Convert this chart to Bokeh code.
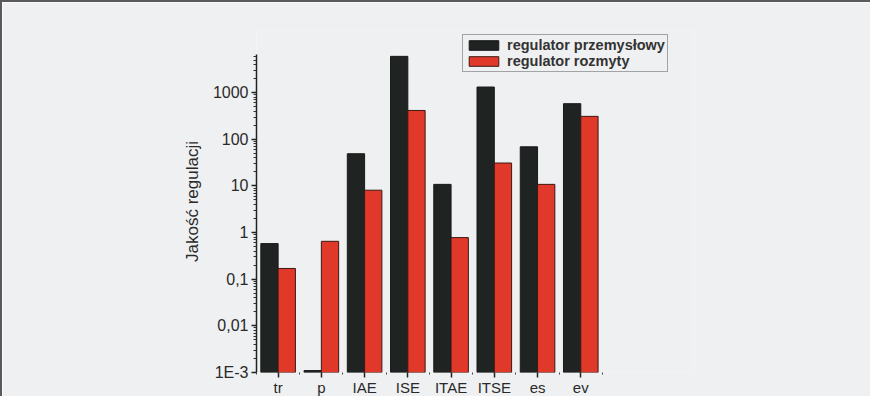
from bokeh.plotting import figure
from bokeh.models import Range1d, FixedTicker, Legend, LegendItem, ColumnDataSource
from bokeh.embed import file_html
from bokeh.resources import INLINE

categories = ["tr", "p", "IAE", "ISE", "ITAE", "ITSE", "es", "ev"]
przemyslowy = [0.58, 0.0011, 49, 6000, 10.8, 1320, 69, 580]
rozmyty = [0.17, 0.65, 8.1, 415, 0.78, 31, 10.8, 310]
y_ticks = [0.001, 0.01, 0.1, 1, 10, 100, 1000]
y_tick_labels = ["1E-3", "0,01", "0,1", "1", "10", "100", "1000"]
series_names = ["regulator przemysłowy", "regulator rozmyty"]
y_axis_top = 6600

FONT = "Liberation Sans"
BG = "#eff0f2"

n = len(categories)
pos = [i + 0.5 for i in range(n)]
src = ColumnDataSource(dict(
    xb=[x - 0.2 for x in pos], xr=[x + 0.2 for x in pos],
    b=przemyslowy, r=rozmyty, base=[y_ticks[0]] * n))

p = figure(width=870, height=396, output_backend="svg", toolbar_location=None,
           y_axis_type="log", x_range=Range1d(0, 10.13),
           y_range=Range1d(0.001, 21500),
           min_border_left=254, min_border_top=28, min_border_right=178, min_border_bottom=26)
p.styles = {"border-left": "2px solid #5a5a5a", "border-top": "2px solid #5a5a5a"}
p.background_fill_color = BG
p.border_fill_color = BG
p.outline_line_color = None
p.grid.visible = False

rb = p.vbar(x="xb", top="b", bottom="base", width=0.4, source=src,
            fill_color="#1f2322", line_color="#1a1a1a", line_width=1)
rr = p.vbar(x="xr", top="r", bottom="base", width=0.4, source=src,
            fill_color="#e0392a", line_color="#3a1a14", line_width=1)

# y axis
minor = []
for d in y_ticks:
    for k in range(2, 10):
        v = d * k
        if v < y_axis_top:
            minor.append(v)
ya = p.yaxis[0]
ya.bounds = (y_ticks[0], y_axis_top)
ya.ticker = FixedTicker(ticks=y_ticks, minor_ticks=minor)
ya.major_label_overrides = {t: l for t, l in zip(y_ticks, y_tick_labels)}
ya.axis_label = "Jakość regulacji"
ya.axis_label_text_font = FONT
ya.axis_label_text_font_style = "normal"
ya.axis_label_text_font_size = "17px"
ya.axis_label_text_color = "#2a2a2a"
ya.axis_label_standoff = 8
ya.major_label_text_font = FONT
ya.major_label_text_font_size = "16px"
ya.major_label_text_color = "#2a2a2a"
ya.major_label_standoff = 3
ya.axis_line_color = "#222222"
ya.axis_line_width = 1.5
ya.major_tick_line_color = "#222222"
ya.major_tick_line_width = 1.5
ya.major_tick_in = 0
ya.major_tick_out = 5
ya.minor_tick_line_color = "#333333"
ya.minor_tick_in = 0
ya.minor_tick_out = 3

# x axis
xa = p.xaxis[0]
xa.bounds = (0, n)
xa.ticker = FixedTicker(ticks=pos, minor_ticks=list(range(n + 1)))
xa.major_label_overrides = {x: c for x, c in zip(pos, categories)}
xa.major_label_text_font = FONT
xa.major_label_text_font_size = "15px"
xa.major_label_text_color = "#2a2a2a"
xa.major_label_standoff = 1
xa.axis_line_color = None
xa.major_tick_line_color = "#222222"
xa.major_tick_line_width = 1.5
xa.major_tick_in = 0
xa.major_tick_out = 5
xa.minor_tick_line_color = "#444444"
xa.minor_tick_in = 0
xa.minor_tick_out = 2

legend = Legend(items=[LegendItem(label=series_names[0], renderers=[rb]),
                       LegendItem(label=series_names[1], renderers=[rr])],
                location=(206, 300))
legend.label_text_font = FONT
legend.label_text_font_style = "bold"
legend.label_text_font_size = "14.5px"
legend.label_text_color = "#333333"
legend.label_height = 14
legend.glyph_height = 12
legend.glyph_width = 37
legend.label_standoff = 5
legend.spacing = 0
legend.padding = 2
legend.margin = 0
legend.border_line_color = "#555555"
legend.border_line_width = 1
legend.background_fill_color = BG
legend.background_fill_alpha = 1
p.add_layout(legend)

open("out.html", "w").write(file_html(p, INLINE))
